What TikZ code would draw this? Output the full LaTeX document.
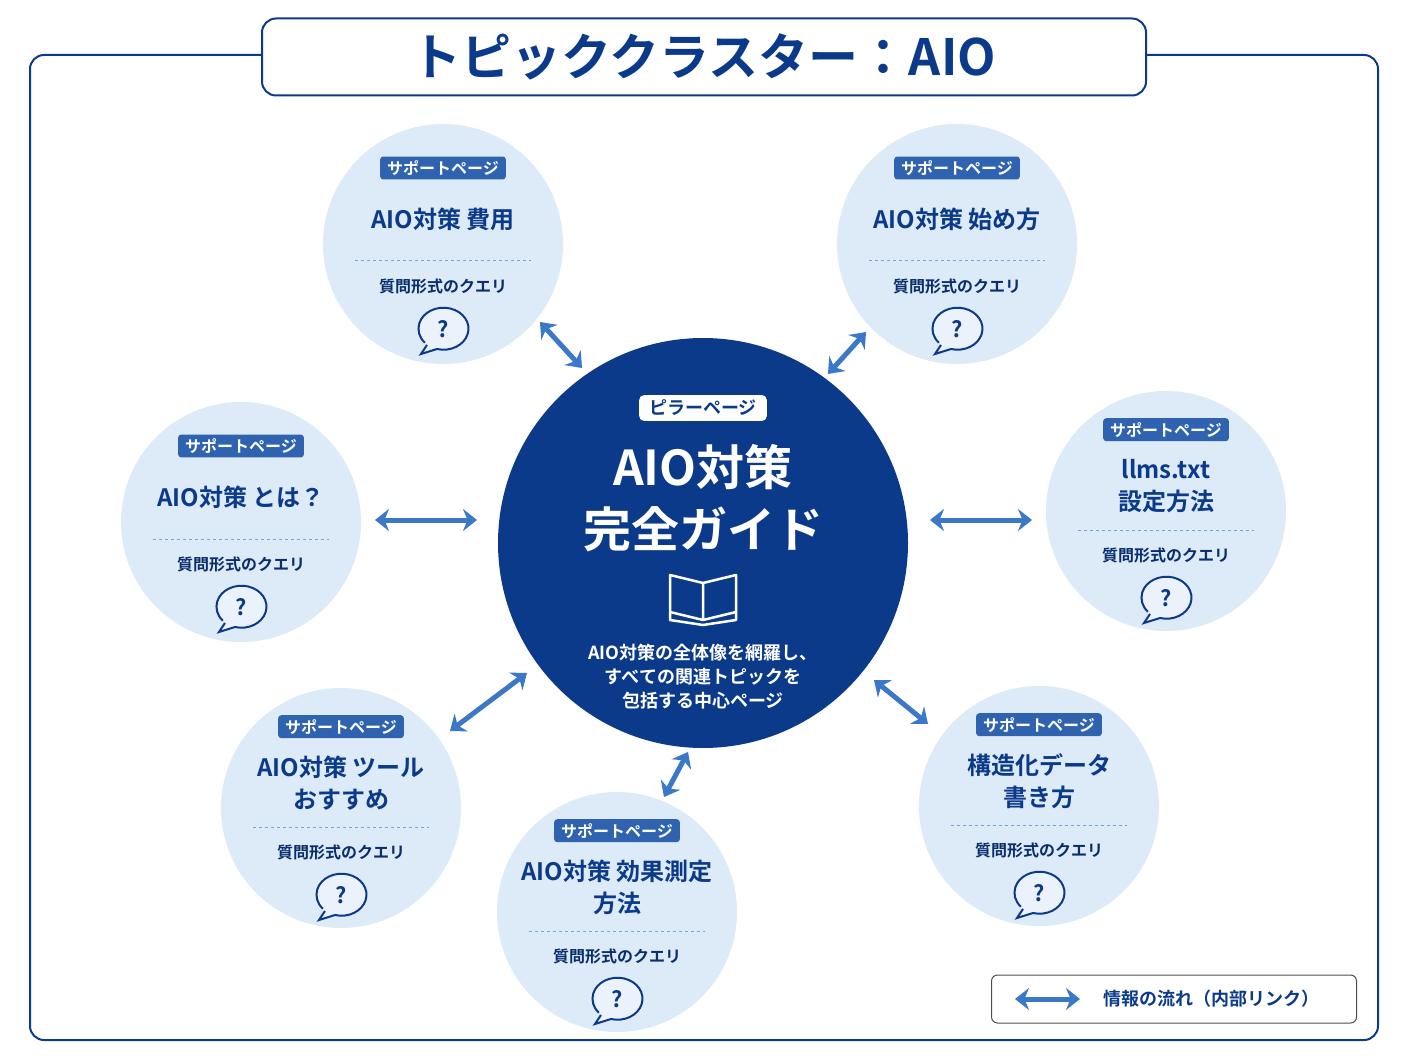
\documentclass[tikz,border=0pt]{standalone}
\usepackage{fontspec}
\setmainfont{Noto Sans CJK JP}[BoldFont={Noto Sans CJK JP Bold}]
\usetikzlibrary{arrows.meta}
\definecolor{navy}{HTML}{0B3A8A}
\definecolor{linkblue}{HTML}{3B78C8}
\definecolor{satfill}{HTML}{DDEAF8}
\definecolor{badge}{HTML}{2F63B0}
\begin{document}
\begin{tikzpicture}[x=1pt,y=-1pt,font=\bfseries]
    \tikzstyle{support}=[circle,fill=satfill,minimum size=240pt,inner sep=0pt]
    \tikzstyle{pillar}=[circle,fill=navy,minimum size=410pt,inner sep=0pt]
    \tikzstyle{tag}=[fill=badge,text=white,rounded corners=3pt,inner xsep=7pt,inner ysep=4pt,font=\fontsize{16}{16}\bfseries]
    \tikzstyle{title}=[text=navy,align=center,font=\fontsize{24}{32}\bfseries]
    \tikzstyle{query}=[text=navy!80!black,font=\fontsize{16}{16}\bfseries]
    \tikzstyle{link}=[linkblue,line width=5pt,{Stealth[length=14pt,width=22pt]}-{Stealth[length=14pt,width=22pt]}]
    \useasboundingbox (0,0) rectangle (1408,1056);

    % frame and title
    \draw[navy,line width=2pt,rounded corners=14pt] (30,55) rectangle (1378,1040);
    \node[draw=navy,line width=2pt,fill=white,rounded corners=14pt,minimum width=884pt,minimum height=77pt,
          text=navy,font=\fontsize{50}{50}\bfseries] (head) at (704,57) {トピッククラスター：AIO};

    % pillar page
    \node[pillar] (C) at (703,543) {};
    \node[fill=white,rounded corners=5pt,text=navy,inner xsep=10pt,inner ysep=5pt,font=\fontsize{18}{18}\bfseries] (ptag) at (703,408) {ピラーページ};
    \node[text=white,align=center,font=\fontsize{48}{62}\bfseries] (ptitle) at (703,498) {AIO対策\\完全ガイド};
    \draw[white,line width=2.5pt,line join=round] (703,583) -- (703,620) -- (670,612) -- (670,575) -- (703,583) -- (736,575) -- (736,612) -- (703,620)
        (670,582) -- (670,620) -- (703,625) -- (736,620) -- (736,582);
    \node[text=white,align=center,font=\fontsize{18}{24}\bfseries] (pdesc) at (703,677) {AIO対策の全体像を網羅し、\\すべての関連トピックを\\包括する中心ページ};

    % support pages
    \foreach \name/\x/\y/\t/\s in {s1/443/244/{AIO対策 費用}/0, s2/957/244/{AIO対策 始め方}/0,
            s3/241/522/{AIO対策 とは？}/0, s4/1166/511/{llms.txt\\設定方法}/16,
            s5/341/808/{AIO対策 ツール\\おすすめ}/16, s6/617/912/{AIO対策 効果測定\\方法}/16,
            s7/1039/806/{構造化データ\\書き方}/16} {
        \node[support] (\name) at (\x,\y) {};
        \node[tag] (\name-tag) at (\x,\y-76-\s/3) {サポートページ};
        \node[title] (\name-title) at (\x,\y-25) {\t};
        \draw[linkblue!70,dashed,line width=1pt] (\x-88,\y+17+\s/6) -- (\x+88,\y+17+\s/6);
        \node[query] (\name-q) at (\x,\y+42+\s/8) {質問形式のクエリ};
        \draw[navy,line width=2pt,fill=white!40!satfill] (\x-16,\y+101+\s/8) -- (\x-22,\y+110+\s/8) -- (\x-6,\y+105+\s/8)
            arc[start angle=-105,end angle=222,x radius=25,y radius=-21];
        \node[text=navy,font=\fontsize{22}{22}\bfseries] at (\x,\y+85+\s/8) {?};
    }

    % internal links
    \foreach \name/\ax/\ay/\bx/\by in {s1/540/322/582/368, s2/866/332/828/374, s3/375/520/477/520,
            s4/1032/520/930/520, s5/450/731/527/673, s6/664/797/688/752, s7/928/724/874/680} {
        \coordinate (\name-a) at (\ax,\ay);
        \coordinate (\name-b) at (\bx,\by);
        \draw[link] (\name-a) -- (\name-b);
    }

    % legend
    \node[draw=black!70,line width=1pt,rounded corners=6pt,minimum width=365pt,minimum height=48pt] (legend) at (1174,999) {};
    \coordinate (la) at (1015,999);
    \coordinate (lb) at (1080,999);
    \draw[link] (la) -- (lb);
    \node[text=navy,font=\fontsize{18}{18}\bfseries,anchor=west] (ltext) at (1100,999) {情報の流れ（内部リンク）};
\end{tikzpicture}
\end{document}
